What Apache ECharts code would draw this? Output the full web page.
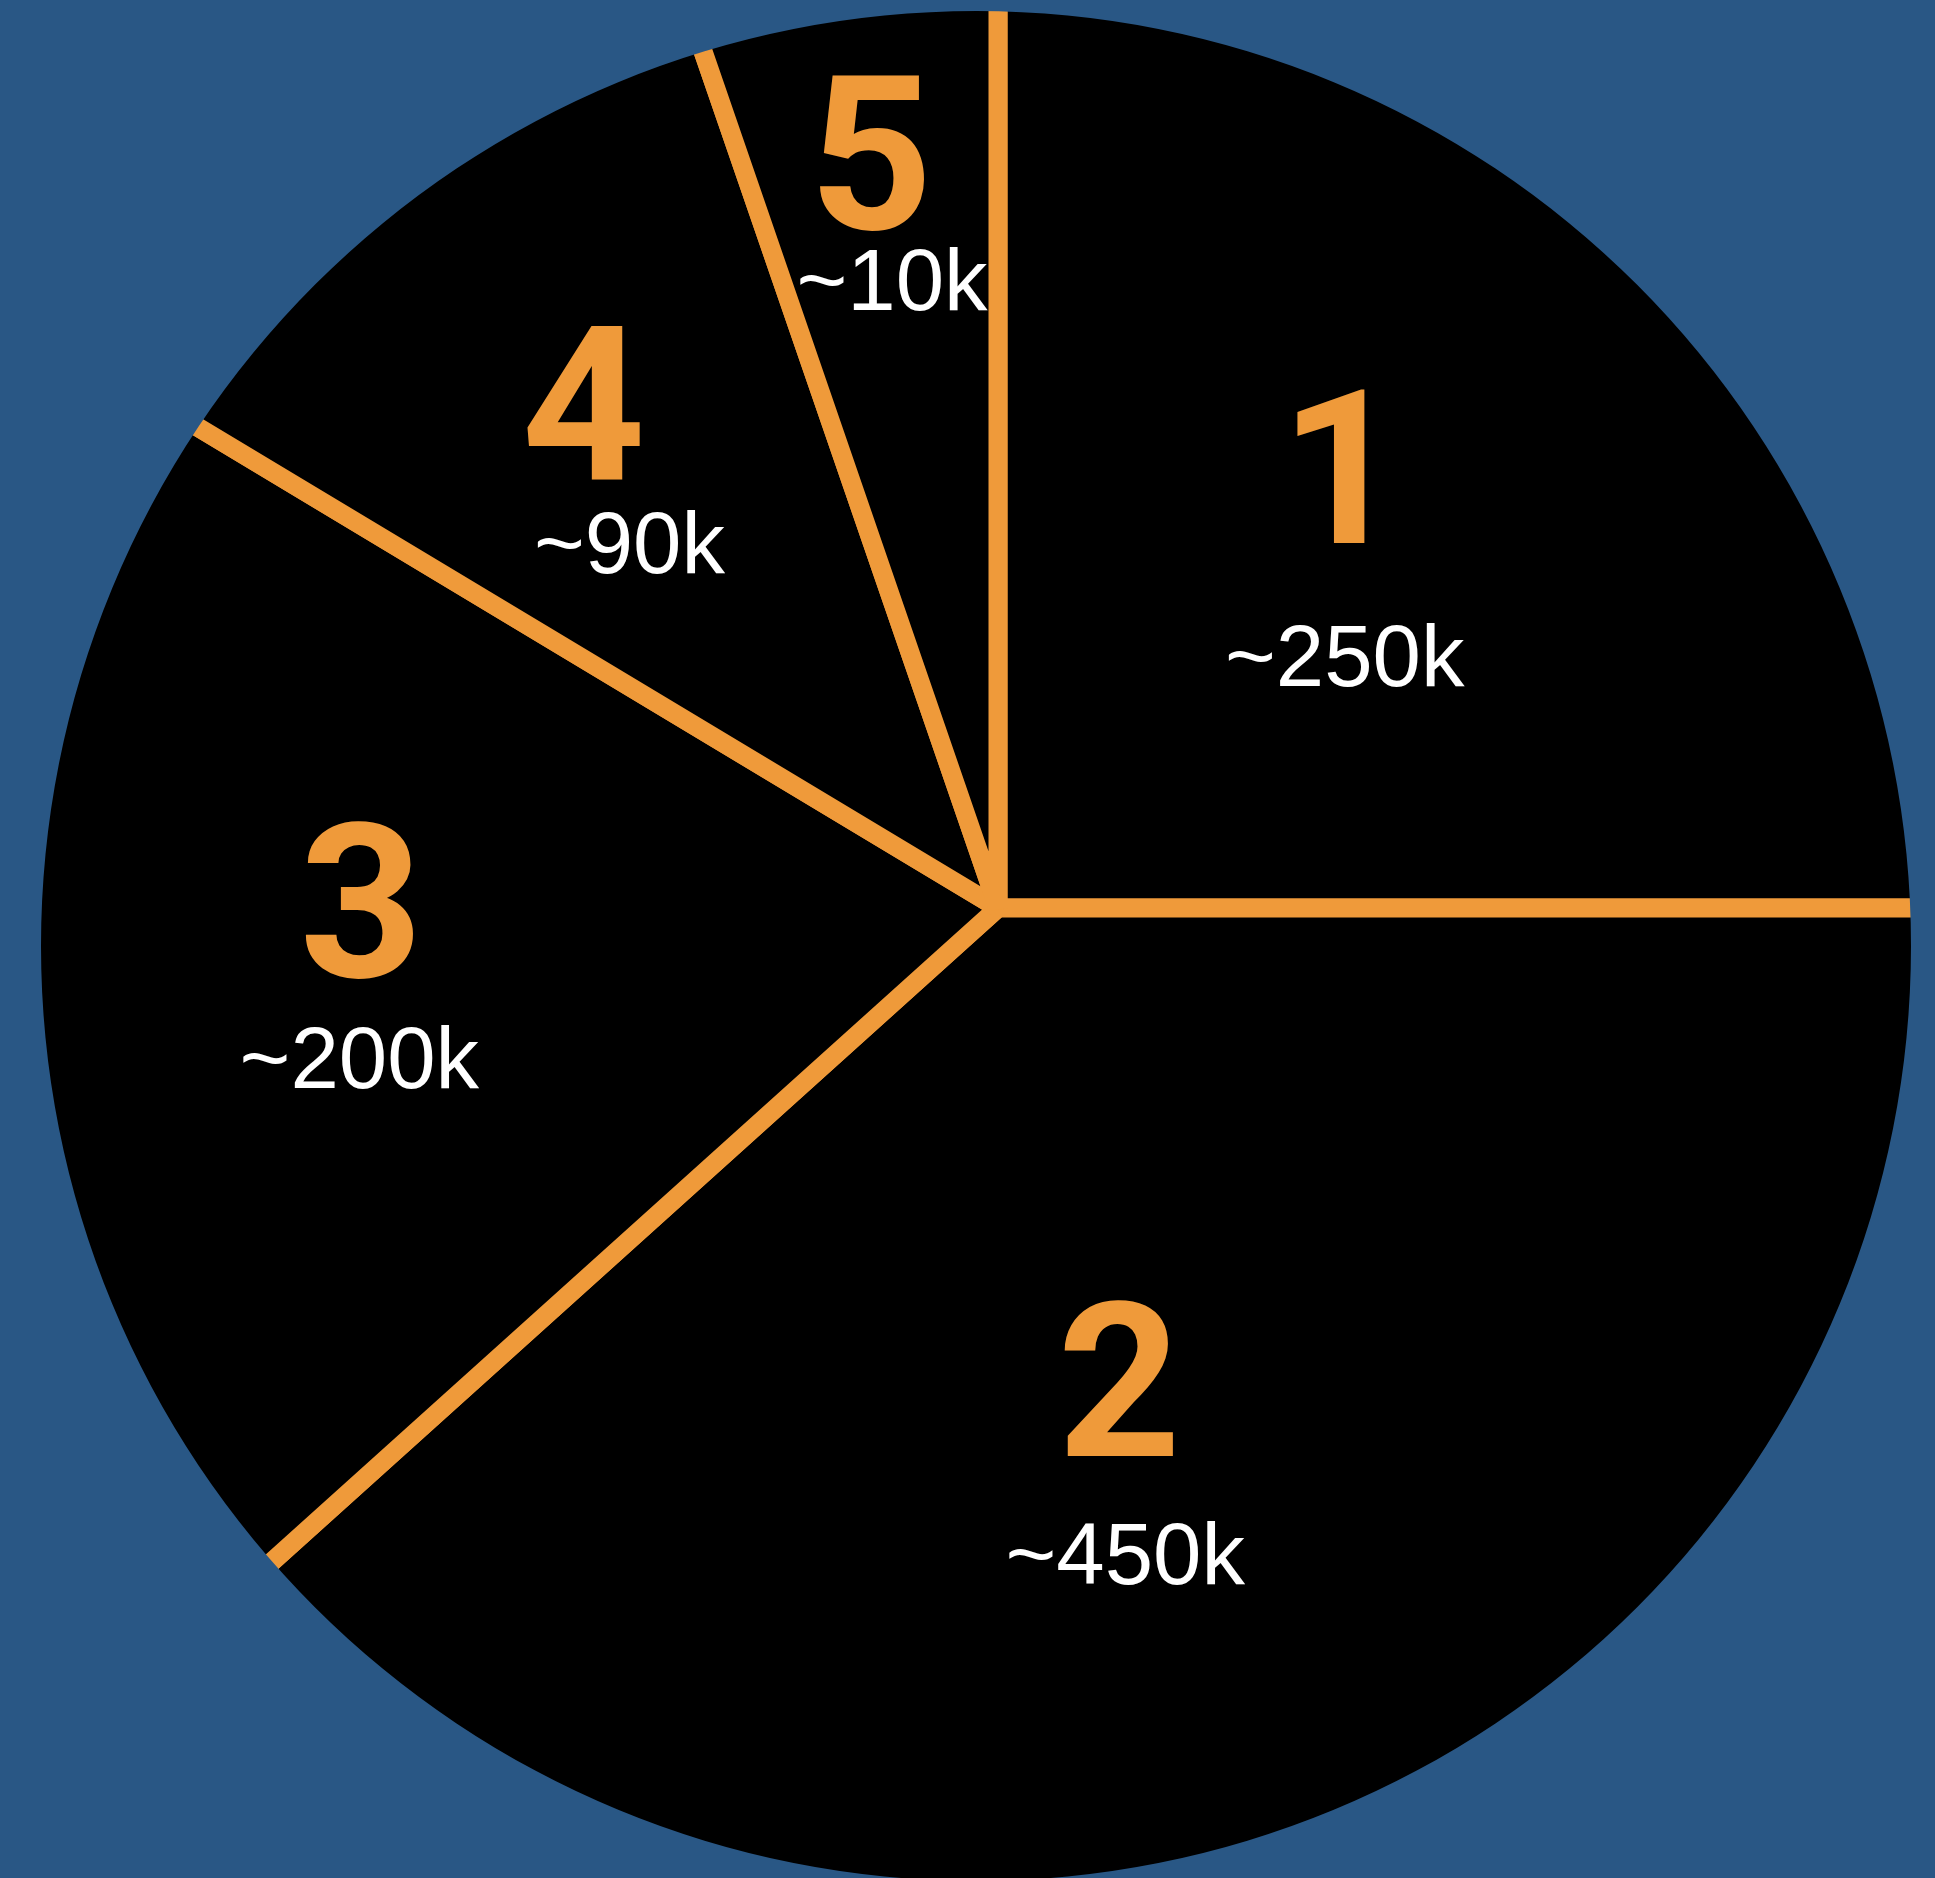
<!DOCTYPE html>
<html>
<head>
<meta charset="utf-8">
<script src="https://cdn.jsdelivr.net/npm/echarts@6/dist/echarts.min.js"></script>
<style>
    html, body { margin: 0; padding: 0; background: #295785; }
    #main { width: 1935px; height: 1878px; }
</style>
</head>
<body>
<div id="main"></div>
<script>
var sliceNames = ['1', '2', '3', '4', '5'];
var approxCounts = [250, 450, 200, 90, 10];      // in k, as written on the slices
var drawnAngles = [90, 138, 73, 40, 19];          // degrees as drawn (not to scale with counts)

// label nudges away from the default inside anchor
var numberShift = [[-12, -63], [-59, 24], [-136, -33], [-98, -92], [-44, -237]];
var countShift = [[-9, 110], [-53, 182], [-138, 108], [-52, 32], [-23, -126]];

var orange = '#EF9A3A';
var blue = '#295785';
var hub = [998, 908];

var data = sliceNames.map(function (name, i) {
    return { name: name, value: drawnAngles[i], count: approxCounts[i] };
});

var chart = echarts.init(document.getElementById('main'));
chart.setOption({
    backgroundColor: blue,
    animation: false,
    series: [
        {
            // black slices with orange dividers
            type: 'pie',
            center: hub,
            radius: [0, 1000],
            startAngle: 90,
            clockwise: true,
            silent: true,
            itemStyle: {
                color: '#000',
                borderColor: orange,
                borderWidth: 19,
                borderJoin: 'bevel'
            },
            label: {
                show: true,
                position: 'inside',
                formatter: '{b}',
                color: orange,
                fontFamily: 'Roboto',
                fontWeight: 'bold',
                fontSize: 216
            },
            labelLine: { show: false },
            labelLayout: function (params) {
                var s = numberShift[params.dataIndex];
                return { dx: s[0], dy: s[1] };
            },
            emphasis: { disabled: true },
            data: data
        },
        {
            // same slices, invisible, only carrying the count labels
            type: 'pie',
            center: hub,
            radius: [0, 1000],
            startAngle: 90,
            clockwise: true,
            silent: true,
            itemStyle: { color: 'rgba(0,0,0,0)', borderWidth: 0 },
            label: {
                show: true,
                position: 'inside',
                formatter: function (p) { return '~' + p.data.count + 'k'; },
                color: '#fff',
                fontFamily: 'Liberation Sans',
                fontSize: 87
            },
            labelLine: { show: false },
            labelLayout: function (params) {
                var s = countShift[params.dataIndex];
                return { dx: s[0], dy: s[1] };
            },
            emphasis: { disabled: true },
            data: data
        },
        {
            // background ring trimming everything outside the disc
            type: 'pie',
            center: [976, 946],
            radius: [935, 1500],
            silent: true,
            label: { show: false },
            labelLine: { show: false },
            itemStyle: { color: blue, borderWidth: 0 },
            emphasis: { disabled: true },
            data: [{ value: 1, name: '' }]
        }
    ]
});
</script>
</body>
</html>
